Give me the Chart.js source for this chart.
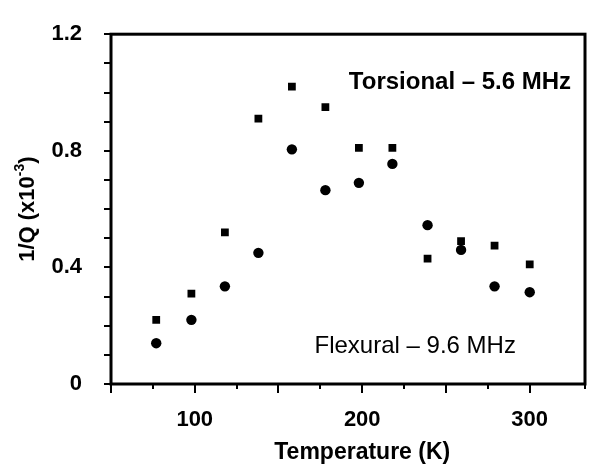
<!DOCTYPE html>
<html>
<head>
<meta charset="utf-8">
<title>1/Q vs Temperature</title>
<script src="https://cdn.jsdelivr.net/npm/chart.js@4.4.0/dist/chart.umd.min.js"></script>
<style>
  html, body { margin: 0; padding: 0; background: #fff; }
  #wrap { width: 600px; height: 464px; }
</style>
</head>
<body>
<div id="wrap"><canvas id="qChart" width="600" height="464"></canvas></div>
<script>
// Data
const temperatures = [77, 98, 118, 138, 158, 178, 198, 218, 239, 259, 279, 300];
const torsional = [0.22, 0.31, 0.52, 0.91, 1.02, 0.95, 0.81, 0.81, 0.43, 0.49, 0.475, 0.41];
const flexural = [0.14, 0.22, 0.335, 0.45, 0.805, 0.665, 0.69, 0.755, 0.545, 0.46, 0.335, 0.315];

const xTickLabels = [100, 200, 300];
const yTickLabels = [0, 0.4, 0.8, 1.2];

const FONT = "'Liberation Sans', Arial, Helvetica, sans-serif";

function toPoints(xs, ys) {
    return xs.map((x, i) => ({ x: x, y: ys[i] }));
}

// Frame, tick marks, axis titles and the two series captions
const decorPlugin = {
    id: 'decor',
    beforeDatasetsDraw(chart) {
        const ctx = chart.ctx;
        const area = chart.chartArea;
        const xs = chart.scales.x;
        const ys = chart.scales.y;

        ctx.save();
        ctx.strokeStyle = '#000';
        ctx.lineWidth = 3;
        ctx.strokeRect(area.left, area.top, area.right - area.left, area.bottom - area.top);

        // y ticks (every 0.1)
        ctx.lineWidth = 2;
        ys.ticks.forEach(t => {
            const py = Math.round(ys.getPixelForValue(t.value));
            ctx.beginPath();
            ctx.moveTo(area.left - 7, py);
            ctx.lineTo(area.left, py);
            ctx.stroke();
        });

        // x ticks (every 25, longer at 50s)
        xs.ticks.forEach(t => {
            const px = Math.round(xs.getPixelForValue(t.value));
            const len = (t.value % 50 === 0) ? 9 : 5;
            ctx.beginPath();
            ctx.moveTo(px, area.bottom);
            ctx.lineTo(px, area.bottom + len);
            ctx.stroke();
        });

        ctx.fillStyle = '#000';

        // x title
        ctx.font = 'bold 23px ' + FONT;
        ctx.textAlign = 'center';
        ctx.textBaseline = 'middle';
        ctx.fillText('Temperature (K)', xs.getPixelForValue(200), 453);

        // y title with superscript
        ctx.save();
        ctx.translate(28, (area.top + area.bottom) / 2);
        ctx.rotate(-Math.PI / 2);
        const main = '1/Q (x10';
        const sup = '-3';
        const close = ')';
        ctx.font = 'bold 22px ' + FONT;
        const wMain = ctx.measureText(main).width;
        const wClose = ctx.measureText(close).width;
        ctx.font = 'bold 14px ' + FONT;
        const wSup = ctx.measureText(sup).width;
        let x0 = -(wMain + wSup + wClose) / 2;
        ctx.textAlign = 'left';
        ctx.textBaseline = 'middle';
        ctx.font = 'bold 22px ' + FONT;
        ctx.fillText(main, x0, 0);
        ctx.font = 'bold 14px ' + FONT;
        ctx.fillText(sup, x0 + wMain, -8);
        ctx.font = 'bold 22px ' + FONT;
        ctx.fillText(close, x0 + wMain + wSup, 0);
        ctx.restore();

        // series captions
        ctx.textAlign = 'left';
        ctx.textBaseline = 'middle';
        ctx.font = 'bold 24px ' + FONT;
        ctx.fillText('Torsional \u2013 5.6 MHz', xs.getPixelForValue(192), ys.getPixelForValue(1.035));
        ctx.font = '24px ' + FONT;
        ctx.fillText('Flexural \u2013 9.6 MHz', xs.getPixelForValue(171.5), ys.getPixelForValue(0.128));

        ctx.restore();
    }
};

document.addEventListener('DOMContentLoaded', function() {
    const ctx = document.getElementById('qChart');

    new Chart(ctx, {
        type: 'scatter',
        data: {
            datasets: [{
                label: 'Torsional - 5.6 MHz',
                data: toPoints(temperatures, torsional),
                pointStyle: 'rect',
                pointRadius: 5.5,
                pointBorderWidth: 0,
                backgroundColor: '#000',
                borderColor: '#000'
            }, {
                label: 'Flexural - 9.6 MHz',
                data: toPoints(temperatures, flexural),
                pointStyle: 'circle',
                pointRadius: 5.2,
                pointBorderWidth: 0,
                backgroundColor: '#000',
                borderColor: '#000'
            }]
        },
        options: {
            responsive: false,
            animation: false,
            devicePixelRatio: 1,
            layout: {
                padding: { left: 0, top: 20, right: 3, bottom: 0 }
            },
            plugins: {
                legend: { display: false },
                tooltip: { enabled: false }
            },
            scales: {
                x: {
                    type: 'linear',
                    min: 50,
                    max: 333,
                    afterFit: function(scale) { scale.height = 80; },
                    border: { display: false },
                    grid: { display: false },
                    ticks: {
                        stepSize: 25,
                        autoSkip: false,
                        maxRotation: 0,
                        padding: 15,
                        color: '#000',
                        font: { family: FONT, size: 22, weight: 'bold' },
                        callback: function(value) {
                            return xTickLabels.includes(value) ? String(value) : '';
                        }
                    }
                },
                y: {
                    min: 0,
                    max: 1.2,
                    afterFit: function(scale) { scale.width = 111; },
                    border: { display: false },
                    grid: { display: false },
                    ticks: {
                        stepSize: 0.1,
                        autoSkip: false,
                        padding: 21,
                        color: '#000',
                        font: { family: FONT, size: 22, weight: 'bold' },
                        callback: function(value) {
                            const hit = yTickLabels.find(v => Math.abs(v - value) < 1e-6);
                            return hit !== undefined ? String(hit) : '';
                        }
                    }
                }
            }
        },
        plugins: [decorPlugin]
    });
});
</script>
</body>
</html>
